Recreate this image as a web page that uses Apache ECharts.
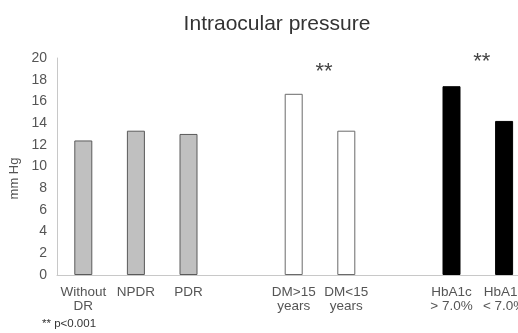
<!DOCTYPE html>
<html>
<head>
<meta charset="utf-8">
<script src="https://cdn.jsdelivr.net/npm/echarts@6/dist/echarts.min.js"></script>
<style>
  html, body { margin: 0; padding: 0; background: #fff; }
  #main { width: 518px; height: 333px; }
</style>
</head>
<body>
<div id="main"></div>
<script>
// 眼压柱状图
var categories = ['Without\nDR', 'NPDR', 'PDR', '', 'DM>15\nyears', 'DM<15\nyears', '', 'HbA1c\n> 7.0%', 'HbA1c\n< 7.0%', ''];
var pressure = [12.4, 13.3, 13.0, null, 16.7, 13.3, null, 17.4, 14.2, null];
var groups = ['grey', 'grey', 'grey', null, 'white', 'white', null, 'black', 'black', null];
var yTicks = [0, 20, 2];
var sigMarks = [[4, 5, 19.2], [7, 8, 20.1]]; // 两组之间的 ** 标记

(function () {
    var myChart = echarts.init(document.getElementById('main'));
    var font = 'Liberation Sans, Arial, sans-serif';
    var styles = {
        grey: { color: '#c0c0c0', borderColor: '#5a5a5a', borderWidth: 1 },
        white: { color: '#ffffff', borderColor: '#6a6a6a', borderWidth: 1 },
        black: { color: '#000000', borderColor: '#000000', borderWidth: 1 }
    };
    var data = pressure.map(function (v, i) {
        if (v === null) return '-';
        return { value: v, itemStyle: styles[groups[i]] };
    });
    var option = {
        animation: false,
        textStyle: { fontFamily: font },
        title: {
            text: 'Intraocular pressure',
            left: 272,
            top: 9,
            textAlign: 'center',
            textStyle: { fontSize: 21, fontWeight: 'normal', color: '#333' }
        },
        grid: {
            left: 57,
            top: 58,
            width: 526,
            height: 217,
            outerBoundsMode: 'none',
            containLabel: false
        },
        xAxis: {
            type: 'category',
            data: categories,
            axisTick: { show: false },
            axisLine: { lineStyle: { color: '#c8c8c8', width: 1 } },
            axisLabel: {
                interval: 0,
                color: '#555',
                fontSize: 13.5,
                lineHeight: 14,
                margin: 10
            }
        },
        yAxis: {
            type: 'value',
            min: yTicks[0],
            max: yTicks[1],
            interval: yTicks[2],
            name: 'mm Hg',
            nameLocation: 'middle',
            nameGap: 36,
            nameRotate: 90,
            nameTextStyle: { color: '#555', fontSize: 13, padding: [0, 0, 0, -24] },
            axisLine: { show: true, lineStyle: { color: '#c8c8c8', width: 1 } },
            axisTick: { show: false },
            splitLine: { show: false },
            axisLabel: { color: '#555', fontSize: 14, margin: 10 }
        },
        series: [
            {
                type: 'bar',
                data: data,
                barWidth: 18
            }
        ]
    };
    myChart.setOption(option);

    // 显著性标记
    var graphics = sigMarks.map(function (m) {
        var p1 = myChart.convertToPixel({ gridIndex: 0 }, [m[0], m[2]]);
        var p2 = myChart.convertToPixel({ gridIndex: 0 }, [m[1], m[2]]);
        return {
            type: 'text',
            x: (p1[0] + p2[0]) / 2 + 4,
            y: p1[1] + 5,
            style: {
                text: '**',
                fontSize: 22,
                fill: '#444',
                align: 'center',
                verticalAlign: 'middle',
                fontFamily: font
            }
        };
    });
    graphics.push({
        type: 'text',
        x: 42,
        y: 324,
        style: {
            text: '** p<0.001',
            fontSize: 11.5,
            fill: '#333',
            verticalAlign: 'middle',
            fontFamily: font
        }
    });
    myChart.setOption({ graphic: graphics });
})();
</script>
</body>
</html>
